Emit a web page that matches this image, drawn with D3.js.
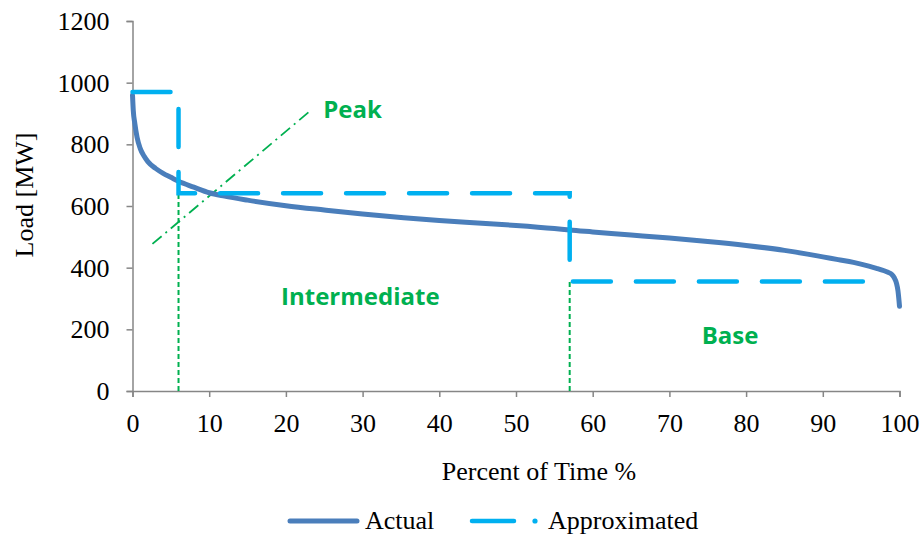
<!DOCTYPE html>
<html><head><meta charset="utf-8">
<script src="https://cdn.jsdelivr.net/npm/d3@7"></script>
<style>body{margin:0;background:#fff}</style>
</head><body><svg id="c" width="924" height="538"></svg>
<script>
const actualPct  = [0, 0.1, 0.3, 0.6, 1, 1.5, 2, 3, 4, 5, 6, 8, 10, 12, 15, 20, 25, 30, 35, 40, 45, 50, 55, 57, 60, 65, 70, 75, 80, 85, 88, 90, 92, 94, 96, 97, 98, 98.5, 99, 99.3, 99.6, 99.8, 100];
const actualLoad = [960, 910, 868, 822, 787, 762, 744, 722, 706, 693, 680, 661, 643, 632, 619, 601, 587, 574, 563, 553, 545, 537, 527, 522, 516, 506, 496, 485, 472, 456, 444, 435, 426, 417, 405, 398, 390, 385, 378, 368, 350, 325, 275];
const approxPct  = [0, 6, 6, 57, 57, 98];
const approxLoad = [970, 970, 641, 641, 355, 355];
const xTicks = [0,10,20,30,40,50,60,70,80,90,100];
const yTicks = [0,200,400,600,800,1000,1200];
const splitPct = [6, 57];
const splitTop = [641, 355];
const peakLinePct = [2.6, 23];
const peakLineLoad = [477, 905];
const regionLabels = ["Peak","Intermediate","Base"];
const regionPct = [28.7, 29.7, 77.9];
const regionLoad = [885, 279, 152];

const svg = d3.select("#c");
const x = d3.scaleLinear().domain([0,100]).range([132.5, 899.5]);
const y = d3.scaleLinear().domain([0,1200]).range([391, 21]);
const serif = "'Liberation Serif','Times New Roman',serif";
const green = "#00B050";
const FS = 26;

// axes
const ya = svg.append("g").attr("transform","translate(132.5,0)")
  .call(d3.axisLeft(y).tickValues(yTicks).tickFormat(d3.format("d")).tickSize(6));
const xa = svg.append("g").attr("transform","translate(0,391)")
  .call(d3.axisBottom(x).tickValues(xTicks).tickFormat(d3.format("d")).tickSize(6));
[ya,xa].forEach(a=>{
  a.attr("font-family",serif).attr("font-size",FS);
  a.select(".domain").attr("stroke","#868686").attr("stroke-width",1.5);
  a.selectAll(".tick line").attr("stroke","#868686").attr("stroke-width",1.5);
  a.selectAll(".tick text").attr("fill","#000");
});
ya.selectAll(".tick text").attr("x",-23).attr("dy","0.33em");
xa.selectAll(".tick text").attr("y",41).attr("dy","0");

// green dotted splits
splitPct.forEach((p,i)=>{
  svg.append("line").attr("x1",x(p)).attr("x2",x(p)).attr("y1",y(0)).attr("y2",y(splitTop[i]))
    .attr("stroke",green).attr("stroke-width",2).attr("stroke-dasharray","5 3");
});
// peak dash-dot line
svg.append("line").attr("x1",x(peakLinePct[0])).attr("y1",y(peakLineLoad[0]))
  .attr("x2",x(peakLinePct[1])).attr("y2",y(peakLineLoad[1]))
  .attr("stroke",green).attr("stroke-width",1.8).attr("stroke-dasharray","12 5 2 5");

// actual
const line = d3.line().x(d=>x(d[0])).y(d=>y(d[1]));
svg.append("path").datum(actualPct.map((p,i)=>[p,actualLoad[i]]))
  .attr("d", line.curve(d3.curveMonotoneX)).attr("fill","none")
  .attr("stroke","#4A7EBB").attr("stroke-width",5).attr("stroke-linecap","round");
// approximated
svg.append("path").datum(approxPct.map((p,i)=>[p,approxLoad[i]]))
  .attr("d", d3.line().x(d=>x(d[0])).y(d=>y(d[1]))).attr("fill","none")
  .attr("stroke","#00B0F0").attr("stroke-width",4.5).attr("stroke-linecap","round")
  .attr("stroke-dasharray","38 25");

// region labels
regionLabels.forEach((t,i)=>{
  svg.append("text").attr("x",x(regionPct[i])).attr("y",y(regionLoad[i]))
    .attr("text-anchor","middle").attr("font-family","'Open Sans',sans-serif")
    .attr("font-weight","bold").attr("font-size",24).attr("fill",green).text(t);
});

// axis titles
svg.append("text").attr("x",539).attr("y",480).attr("text-anchor","middle")
  .attr("font-family",serif).attr("font-size",FS).text("Percent of Time %");
svg.append("text").attr("transform","translate(33,195) rotate(-90)").attr("text-anchor","middle")
  .attr("font-family",serif).attr("font-size",FS).text("Load [MW]");

// legend
const lg = svg.append("g");
lg.append("line").attr("x1",290).attr("x2",357).attr("y1",521).attr("y2",521)
  .attr("stroke","#4A7EBB").attr("stroke-width",5).attr("stroke-linecap","round");
lg.append("text").attr("x",365).attr("y",529).attr("font-family",serif).attr("font-size",FS).text("Actual");
lg.append("line").attr("x1",472).attr("x2",514).attr("y1",521).attr("y2",521)
  .attr("stroke","#00B0F0").attr("stroke-width",4.5).attr("stroke-linecap","round");
lg.append("circle").attr("cx",535).attr("cy",521).attr("r",2.6).attr("fill","#00B0F0");
lg.append("text").attr("x",548).attr("y",529).attr("font-family",serif).attr("font-size",FS).text("Approximated");
</script></body></html>
